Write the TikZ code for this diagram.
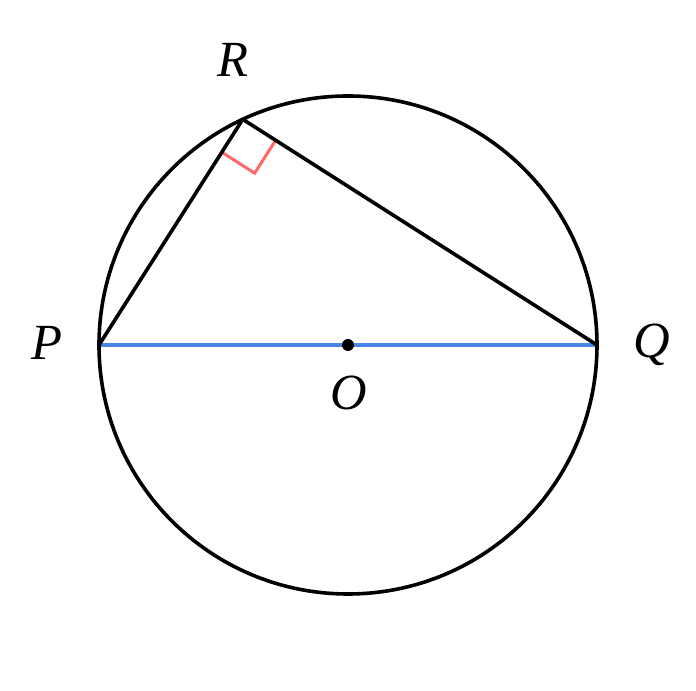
\documentclass[tikz,border=0pt]{standalone}
\usepackage{fontspec}
\setmainfont{Liberation Serif}
\usepackage{tikz}
\usetikzlibrary{calc}
\usepackage{xcolor}
\definecolor{diamblue}{HTML}{4A86E8}
\definecolor{markred}{HTML}{FF6B6B}

\begin{document}
\begin{tikzpicture}
    \tikzset{
        x=0.75pt, y=0.75pt,
        edge/.style={line width=2.7pt},
        lbl/.style={font=\fontsize{38}{40}\selectfont\itshape,inner sep=0pt},
    }
    \useasboundingbox (-348,-346) rectangle (348,345);
    \coordinate (O) at (0,0);
    \coordinate (P) at (180:249);
    \coordinate (Q) at (0:249);
    \coordinate (R) at (115:249);
    % right angle at R
    \coordinate (ma) at ($(R)!29.25pt!(P)$);
    \coordinate (mb) at ($(R)!29.25pt!(Q)$);
    \draw[markred,line width=2.3pt] (ma) -- ($(ma)+(mb)-(R)$) -- (mb);
    \draw[edge,diamblue] (P) -- (Q);
    \draw[edge] (O) circle (249);
    \draw[edge,line join=round] (P) -- (R) -- (Q);
    \fill (O) circle (4.5pt);
    % labels
    \node[lbl] (lR) at (-115,285) {R};
    \node[lbl] (lP) at (-301,2) {P};
    \node[lbl] (lQ) at (304,0) {Q};
    \node[lbl] (lO) at (1,-48) {O};
\end{tikzpicture}
\end{document}
